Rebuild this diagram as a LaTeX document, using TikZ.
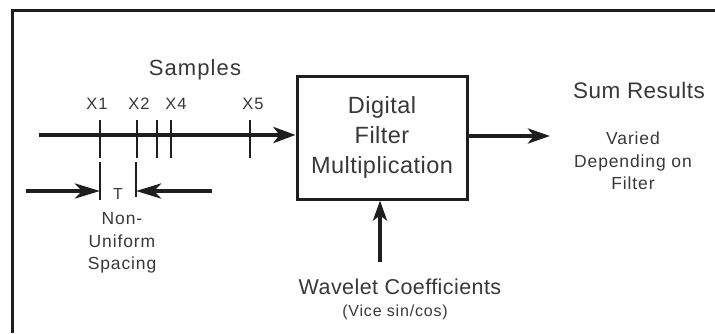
\documentclass[tikz,border=0pt]{standalone}
\usepackage{fontspec}
\setmainfont{Liberation Sans}
\usetikzlibrary{arrows.meta}
\definecolor{ink}{HTML}{1E1E1E}
\definecolor{txt}{HTML}{383838}
\begin{document}
\begin{tikzpicture}[x=1pt,y=-1pt,
  lbl/.style={text=txt,inner sep=0pt,align=center},
  thick arrow/.style={draw=ink,line width=4pt,-{Stealth[length=22pt,width=16pt,inset=6pt]}},
  tick/.style={draw=ink,line width=1.5pt},
  frame/.style={draw=ink,line width=3pt},
  filterbox/.style={draw=ink,line width=3pt,minimum width=170pt,minimum height=123pt,inner sep=0pt,align=center,text=txt}]
\useasboundingbox (0,0) rectangle (715,333);
% frame
\draw[frame] (11,10.5) -- (715,10.5);
\draw[frame] (12.5,9) -- (12.5,333);
% box
\node[filterbox,font=\fontsize{23.5}{30}\selectfont\addfontfeature{LetterSpace=2}] (box) at (382,137.5) {Digital\\Filter\\Multiplication};
% main input arrow
\coordinate (in) at (39,135);
\draw[thick arrow] (in) -- (in -| box.west);
% ticks on main line
\foreach \n/\x in {t1/100,t2/137,t3/157,t4/171,t5/250}{
  \coordinate (\n top) at (\x,120);
  \coordinate (\n bot) at (\x,158);
  \draw[tick] (\n top) -- (\n bot);
}
% labels
\node[lbl,font=\fontsize{22}{24}\selectfont\addfontfeature{LetterSpace=5}] (samples) at (195,70) {Samples};
\foreach \n/\x/\t in {x1/97/X1,x2/139/X2,x4/176/X4,x5/253/X5}{
  \node[lbl,font=\fontsize{16.5}{18}\selectfont\addfontfeature{LetterSpace=7}] (\n) at (\x,104) {\t};
}
% spacing markers
\coordinate (s1top) at (100,162);
\coordinate (s1bot) at (100,200);
\coordinate (s2top) at (136,162);
\coordinate (s2bot) at (136,197);
\draw[tick] (s1top) -- (s1bot);
\draw[tick] (s2top) -- (s2bot);
\coordinate (aL) at (26,191);
\coordinate (aR) at (212,191);
\coordinate (hL) at (100,191);
\coordinate (hR) at (136,191);
\draw[draw=ink,line width=4pt,-{Stealth[length=25pt,width=15pt,inset=7pt]}] (aL) -- (hL);
\draw[draw=ink,line width=4pt,-{Stealth[length=25pt,width=15pt,inset=7pt]}] (aR) -- (hR);
\node[lbl,font=\fontsize{16}{18}\selectfont] (T) at (118,194) {T};
\node[lbl,font=\fontsize{17.5}{22.5}\selectfont\addfontfeature{LetterSpace=5}] (nonuni) at (122,243) {Non-\\Uniform\\Spacing};
% output arrow
\coordinate (outend) at (550,136);
\draw[draw=ink,line width=4pt,-{Stealth[length=22pt,width=15pt,inset=6pt]}] (box.east |- outend) -- (outend);
\node[lbl,font=\fontsize{22.5}{24}\selectfont\addfontfeature{LetterSpace=2}] (sum) at (639,90) {Sum Results};
\node[lbl,font=\fontsize{17.5}{22.5}\selectfont\addfontfeature{LetterSpace=5}] (varied) at (633,161) {Varied\\Depending on\\Filter};
% coefficient arrow
\coordinate (cstart) at (380,262);
\draw[draw=ink,line width=4pt,-{Stealth[length=20pt,width=14pt,inset=5pt]}] (cstart) -- (cstart |- box.south);
\node[lbl,font=\fontsize{21.5}{24}\selectfont\addfontfeature{LetterSpace=2}] (wave) at (400,287) {Wavelet Coefficients};
\node[lbl,font=\fontsize{16}{18}\selectfont\addfontfeature{LetterSpace=5}] (vice) at (395,312) {(Vice sin/cos)};
\end{tikzpicture}
\end{document}
